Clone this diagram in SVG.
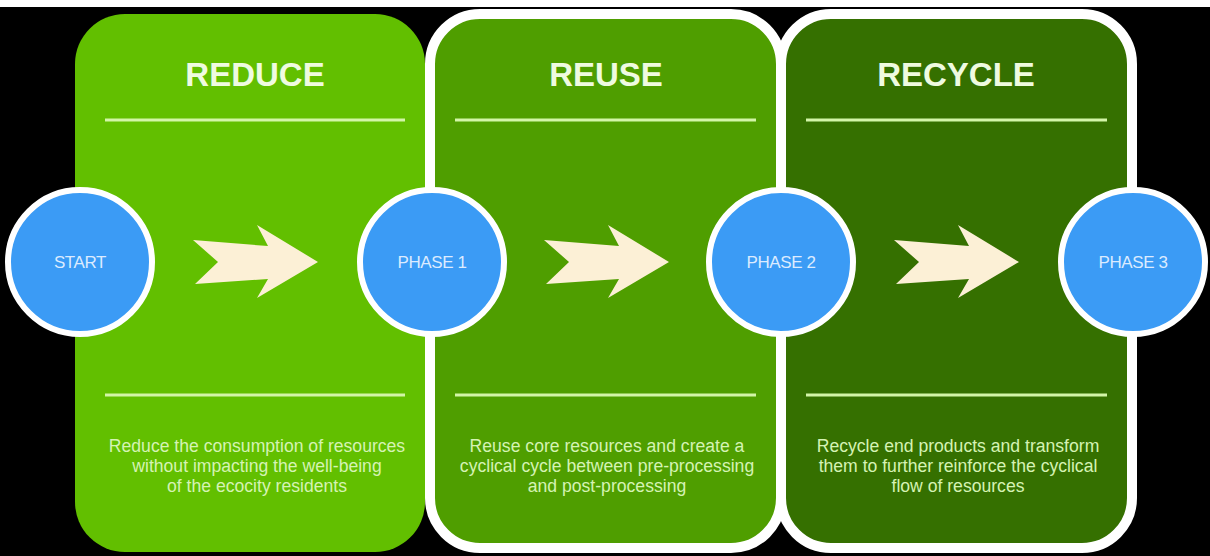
<svg xmlns="http://www.w3.org/2000/svg" width="1210" height="556" viewBox="0 0 1210 556">
<style>
.title{font-family:"Liberation Sans",Arial,sans-serif;font-weight:bold;font-size:33px;fill:#effbe0;text-anchor:middle}
.body{font-family:"Liberation Sans",Arial,sans-serif;font-size:17.6px;fill:#d5f3b4;text-anchor:middle}
.lbl{font-family:"Liberation Sans",Arial,sans-serif;font-size:17px;fill:#dcebff;text-anchor:middle;letter-spacing:-0.4px}
.rule{stroke:#d3f5a8;stroke-width:3}
.node{fill:#3b9bf5;stroke:#ffffff;stroke-width:6}
.arrow{fill:#fcf0d6}
</style>
<rect x="0" y="0" width="1210" height="556" fill="#000000"/>
<rect x="0" y="0" width="1210" height="7" fill="#ffffff"/>
<g id="reduce">
<rect x="75" y="14" width="350" height="538" rx="50" fill="#62bf00"/>
<text class="title" x="255" y="86">REDUCE</text>
<line class="rule" x1="105" y1="120" x2="405" y2="120"/>
<line class="rule" x1="105" y1="395" x2="405" y2="395"/>
<text class="body" x="257" y="452">Reduce the consumption of resources</text>
<text class="body" x="257" y="472">without impacting the well-being</text>
<text class="body" x="257" y="492">of the ecocity residents</text>
</g>
<g id="reuse">
<rect x="430" y="14" width="351" height="534" rx="50" fill="#4f9e00" stroke="#ffffff" stroke-width="10"/>
<text class="title" x="606" y="86">REUSE</text>
<line class="rule" x1="455" y1="120" x2="756" y2="120"/>
<line class="rule" x1="455" y1="395" x2="756" y2="395"/>
<text class="body" x="607" y="452">Reuse core resources and create a</text>
<text class="body" x="607" y="472">cyclical cycle between pre-processing</text>
<text class="body" x="607" y="492">and post-processing</text>
</g>
<g id="recycle">
<rect x="781" y="14" width="351" height="534" rx="50" fill="#357000" stroke="#ffffff" stroke-width="10"/>
<text class="title" x="956" y="86">RECYCLE</text>
<line class="rule" x1="806" y1="120" x2="1107" y2="120"/>
<line class="rule" x1="806" y1="395" x2="1107" y2="395"/>
<text class="body" x="958" y="452">Recycle end products and transform</text>
<text class="body" x="958" y="472">them to further reinforce the cyclical</text>
<text class="body" x="958" y="492">flow of resources</text>
</g>
<g id="connectors">
<polygon class="arrow" points="193,240 268,246 257,225 318,262 257,298 268,279 195,284 218,262"/>
<polygon class="arrow" points="544,240 619,246 608,225 669,262 608,298 619,279 546,284 569,262"/>
<polygon class="arrow" points="894,240 969,246 958,225 1019,262 958,298 969,279 896,284 919,262"/>
</g>
<g id="start">
<circle class="node" cx="80" cy="262" r="72"/>
<text class="lbl" x="80" y="268">START</text>
</g>
<g id="phase1">
<circle class="node" cx="432" cy="262" r="72"/>
<text class="lbl" x="432" y="268">PHASE 1</text>
</g>
<g id="phase2">
<circle class="node" cx="781" cy="262" r="72"/>
<text class="lbl" x="781" y="268">PHASE 2</text>
</g>
<g id="phase3">
<circle class="node" cx="1133" cy="262" r="72"/>
<text class="lbl" x="1133" y="268">PHASE 3</text>
</g>
</svg>
